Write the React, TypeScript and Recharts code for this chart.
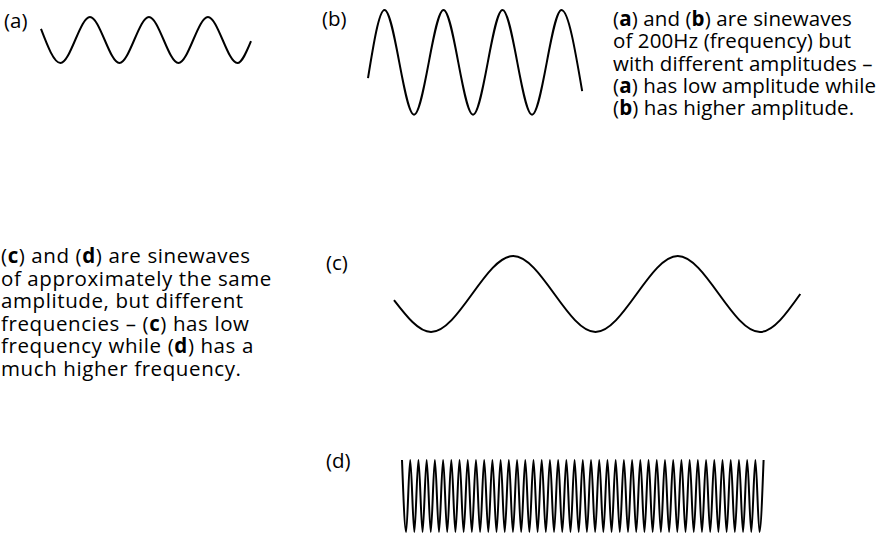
import React from 'react';
import { LineChart, Line, XAxis, YAxis } from 'recharts';

// (a) low amplitude, 200Hz -- time in cycles, level -1..1
const aTime = [0, 0.33, 0.83, 1.33, 1.83, 2.33, 2.83, 3.33, 3.56];
const aLevel = [0.48, -1, 1, -1, 1, -1, 1, -1, -0.05];

// (b) higher amplitude, same 200Hz
const bTime = [0, 0.28, 0.78, 1.28, 1.78, 2.28, 2.78, 3.28, 3.63];
const bLevel = [-0.3, 1, -1, 1, -1, 1, -1, 1, -0.55];

// (c) low frequency
const cTime = [0, 0.225, 0.725, 1.225, 1.725, 2.225, 2.47];
const cLevel = [-0.16, -1, 1, -1, 1, -1, 0];

// (d) high frequency, peaks and troughs every half cycle
const dLevel = [
  1, -1, 1, -1, 1, -1, 1, -1, 1, -1, 1, -1, 1, -1, 1, -1, 1, -1, 1, -1,
  1, -1, 1, -1, 1, -1, 1, -1, 1, -1, 1, -1, 1, -1, 1, -1, 1, -1, 1, -1,
  1, -1, 1, -1, 1, -1, 1, -1, 1, -1, 1, -1, 1, -1, 1, -1, 1, -1, 1, -1,
  1, -1, 1, -1, 1, -1, 1, -1, 1, -1, 1, -1, 1, -1, 1, -1, 1, -1, 1, -1,
  1, -1, 1, -1, 1, -1, 1, -1, 1,
];

const topNote = [
  ['(', 'a', ') and (', 'b', ') are sinewaves'],
  ['of 200Hz (frequency) but'],
  ['with different amplitudes –'],
  ['(', 'a', ') has low amplitude while'],
  ['(', 'b', ') has higher amplitude.'],
];

const bottomNote = [
  ['(', 'c', ') and (', 'd', ') are sinewaves'],
  ['of approximately the same'],
  ['amplitude, but different'],
  ['frequencies – (', 'c', ') has low'],
  ['frequency while (', 'd', ') has a'],
  ['much higher frequency.'],
];

const font = '"Open Sans", "Noto Sans", sans-serif';
const M = 3;

interface WaveProps {
  x0: number;
  x1: number;
  y0: number;
  y1: number;
  data: { t: number; v: number }[];
}

const Wave: React.FC<WaveProps> = ({ x0, x1, y0, y1, data }) => (
  <div style={{ position: 'absolute', left: x0 - M, top: y0 - M }}>
    <LineChart
      width={x1 - x0 + 2 * M}
      height={y1 - y0 + 2 * M}
      data={data}
      margin={{ top: M, right: M, bottom: M, left: M }}
    >
      <XAxis type="number" dataKey="t" domain={['dataMin', 'dataMax']} hide />
      <YAxis type="number" domain={[-1, 1]} hide />
      <Line
        type="monotone"
        dataKey="v"
        stroke="#000"
        strokeWidth={2}
        dot={false}
        activeDot={false}
        isAnimationActive={false}
      />
    </LineChart>
  </div>
);

const Note: React.FC<{ lines: string[][]; left: number; top: number; lh: number; ls: number }> = ({ lines, left, top, lh, ls }) => (
  <div style={{ position: 'absolute', left, top, fontFamily: font, fontSize: 20.5, letterSpacing: ls, lineHeight: `${lh}px`, color: '#000', whiteSpace: 'nowrap' }}>
    {lines.map((parts, i) => (
      <div key={i} style={{ height: lh }}>
        {parts.map((p, j) => (j % 2 === 1 ? <b key={j}>{p}</b> : <span key={j}>{p}</span>))}
      </div>
    ))}
  </div>
);

const Label: React.FC<{ text: string; left: number; top: number }> = ({ text, left, top }) => (
  <div style={{ position: 'absolute', left, top, fontFamily: font, fontSize: 20.5, lineHeight: '22px' }}>{text}</div>
);

export default function App() {
  const aData = aTime.map((t, i) => ({ t, v: aLevel[i] }));
  const bData = bTime.map((t, i) => ({ t, v: bLevel[i] }));
  const cData = cTime.map((t, i) => ({ t, v: cLevel[i] }));
  const dData = dLevel.map((v, i) => ({ t: i, v }));

  return (
    <div style={{ position: 'absolute', left: 0, top: 0, width: 890, height: 536, background: '#fff', overflow: 'hidden' }}>
      <Label text="(a)" left={4} top={9} />
      <Label text="(b)" left={322} top={7} />
      <Label text="(c)" left={326} top={251} />
      <Label text="(d)" left={326} top={449} />

      <Wave x0={40.7} x1={250.7} y0={16.5} y1={62.5} data={aData} />
      <Wave x0={368.3} x1={582.5} y0={10} y1={114.7} data={bData} />
      <Wave x0={394} x1={800.3} y0={256} y1={332} data={cData} />
      <Wave x0={401.7} x1={763.3} y0={460} y1={532} data={dData} />

      <Note lines={topNote} left={613} top={7} lh={22.3} ls={0.1} />
      <Note lines={bottomNote} left={1} top={244} lh={22.6} ls={0.6} />
    </div>
  );
}
